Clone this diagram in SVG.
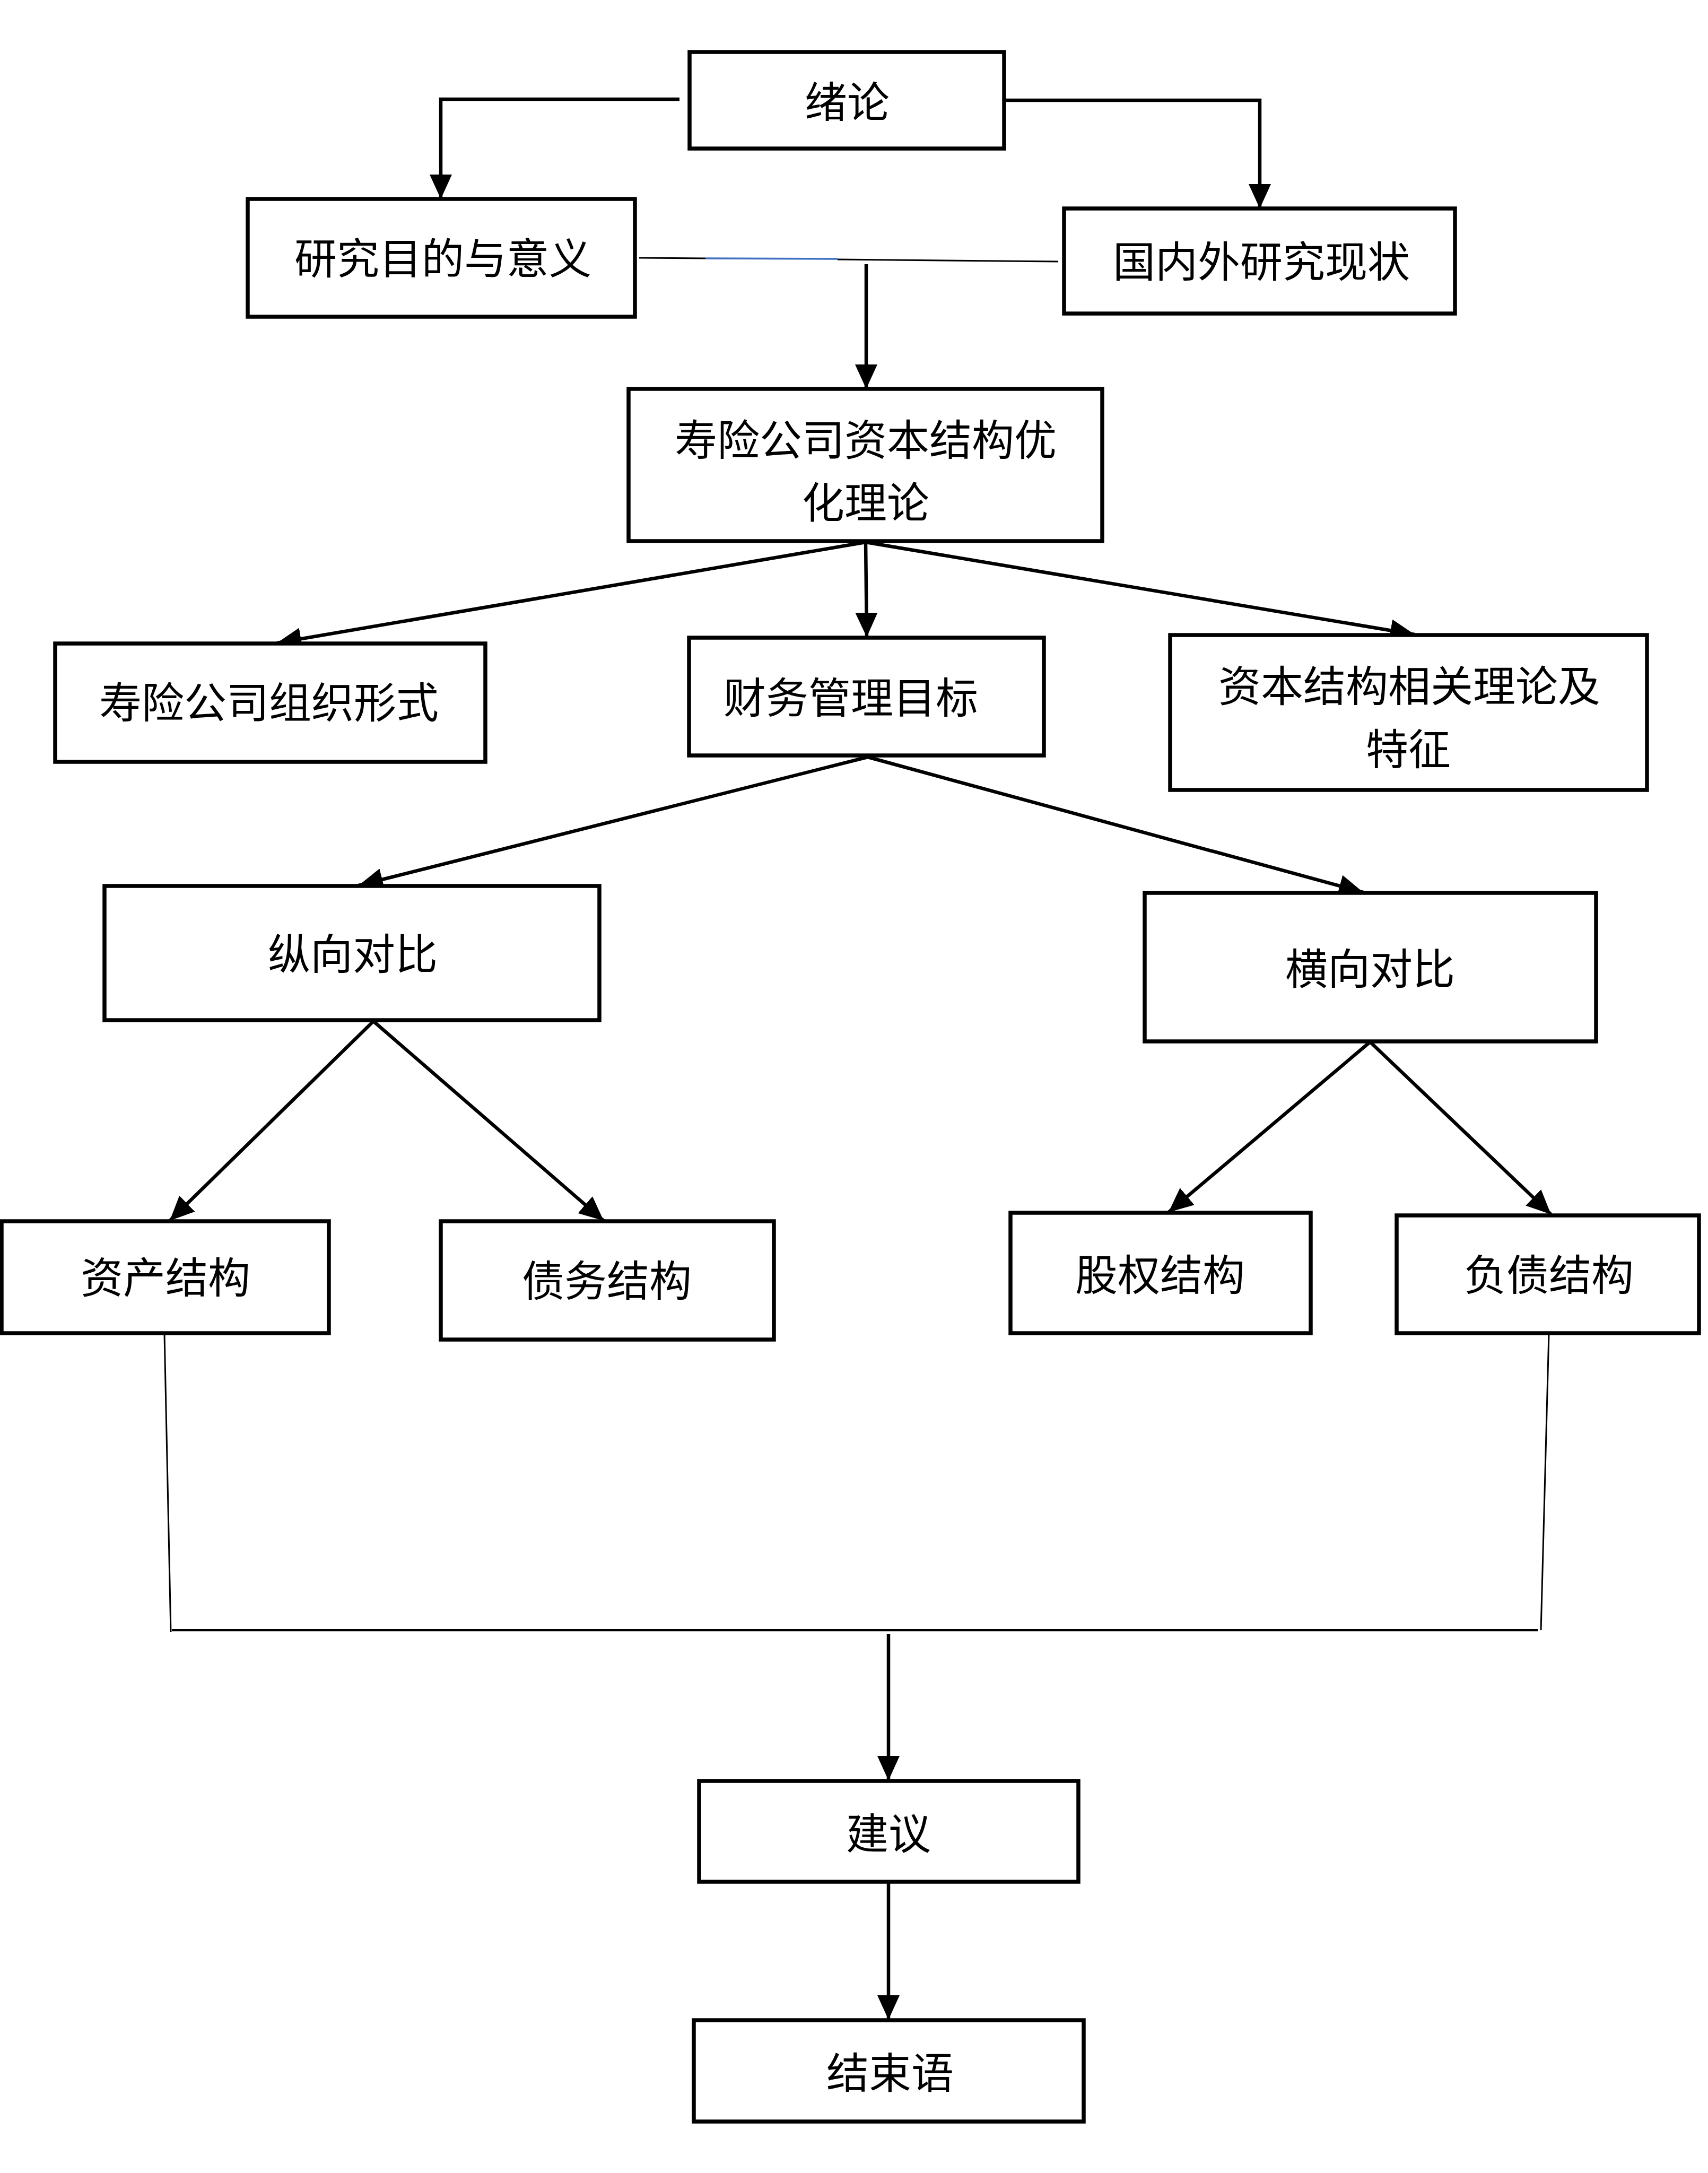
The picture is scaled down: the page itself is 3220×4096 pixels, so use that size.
<svg xmlns="http://www.w3.org/2000/svg" width="3220" height="4096" viewBox="0 0 3220 4096">
<defs>
<style>
.box{fill:#fff;stroke:#000;stroke-width:7.5}
.lbl{font-family:"Noto Sans CJK SC","Noto Sans",sans-serif;font-size:80px;fill:#000;text-anchor:middle;dominant-baseline:central}
.arr{fill:none;stroke:#000;stroke-width:6.5;marker-end:url(#ah)}
.thin{fill:none;stroke:#000;stroke-width:3}
</style>
<marker id="ah" markerUnits="userSpaceOnUse" markerWidth="46" markerHeight="42" refX="46" refY="21" orient="auto"><path d="M0,0 L46,21 L0,42 z" fill="#000"/></marker>
</defs>
<rect width="3220" height="4096" fill="#fff"/>
<g id="connectors">
<path class="arr" d="M1281,187 H831 V375"/>
<path class="arr" d="M1893,189 H2375 V393"/>
<path class="thin" d="M1205,486 L1330,487"/>
<path fill="none" stroke="#3E6FC0" stroke-width="3.5" d="M1330,487 L1579,488"/>
<path class="thin" d="M1579,489 L1995,493"/>
<path class="arr" d="M1633,498 V733"/>
<path class="arr" d="M1632,1022 L522,1212"/>
<path class="arr" d="M1632,1022 L1634,1201"/>
<path class="arr" d="M1632,1022 L2667,1196"/>
<path class="arr" d="M1636,1427 L676,1669"/>
<path class="arr" d="M1636,1427 L2570,1682"/>
<path class="arr" d="M704,1925 L320,2301"/>
<path class="arr" d="M704,1925 L1138,2301"/>
<path class="arr" d="M2583,1964 L2203,2285"/>
<path class="arr" d="M2583,1964 L2924,2289"/>
<path class="thin" d="M310,2515 L322,3076"/>
<path class="thin" d="M2920,2515 L2905,3073"/>
<path fill="none" stroke="#000" stroke-width="4" d="M324,3073 H2899"/>
<path class="arr" d="M1675,3080 V3356"/>
<path class="arr" d="M1675,3548 V3807"/>
</g>
<g id="n_xulun"><rect class="box" x="1300" y="98" width="593" height="182"/><text class="lbl" x="1597" y="186">绪论</text></g>
<g id="n_mudi"><rect class="box" x="467" y="375" width="730" height="222"/><text class="lbl" x="835" y="481">研究目的与意义</text></g>
<g id="n_xianzhuang"><rect class="box" x="2006" y="393" width="737" height="198"/><text class="lbl" x="2378" y="487">国内外研究现状</text></g>
<g id="n_lilun"><rect class="box" x="1185" y="733" width="893" height="287"/><text class="lbl" x="1632" y="823">寿险公司资本结构优</text><text class="lbl" x="1632" y="941">化理论</text></g>
<g id="n_zuzhi"><rect class="box" x="104" y="1213" width="811" height="223"/><text class="lbl" x="507" y="1318">寿险公司组织形式</text></g>
<g id="n_mubiao"><rect class="box" x="1299" y="1202" width="669" height="222"/><text class="lbl" x="1604" y="1309">财务管理目标</text></g>
<g id="n_xiangguan"><rect class="box" x="2206" y="1197" width="899" height="292"/><text class="lbl" x="2657" y="1287">资本结构相关理论及</text><text class="lbl" x="2655" y="1406">特征</text></g>
<g id="n_zongxiang"><rect class="box" x="197" y="1670" width="933" height="253"/><text class="lbl" x="665" y="1792">纵向对比</text></g>
<g id="n_hengxiang"><rect class="box" x="2158" y="1683" width="851" height="280"/><text class="lbl" x="2583" y="1820">横向对比</text></g>
<g id="n_zichan"><rect class="box" x="3" y="2302" width="617" height="211"/><text class="lbl" x="312" y="2402">资产结构</text></g>
<g id="n_zhaiwu"><rect class="box" x="831" y="2302" width="628" height="223"/><text class="lbl" x="1144" y="2408">债务结构</text></g>
<g id="n_guquan"><rect class="box" x="1905" y="2286" width="566" height="227"/><text class="lbl" x="2187" y="2397">股权结构</text></g>
<g id="n_fuzhai"><rect class="box" x="2633" y="2291" width="570" height="222"/><text class="lbl" x="2920" y="2397">负债结构</text></g>
<g id="n_jianyi"><rect class="box" x="1318" y="3357" width="715" height="190"/><text class="lbl" x="1675" y="3450">建议</text></g>
<g id="n_jieshu"><rect class="box" x="1308" y="3808" width="735" height="191"/><text class="lbl" x="1678" y="3901">结束语</text></g>
</svg>
